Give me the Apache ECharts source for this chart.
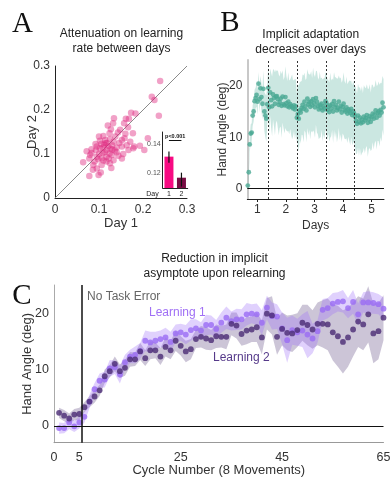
<!DOCTYPE html>
<html><head><meta charset="utf-8">
<script src="https://cdn.jsdelivr.net/npm/echarts@6.0.0/dist/echarts.min.js"></script>
<style>html,body{margin:0;padding:0;background:#fff}#c{width:392px;height:482px}</style>
</head><body><div id="c"></div>
<script>
// ---------- Panel A data ----------
const aTicks = [0, 0.1, 0.2, 0.3];
const aDay1 = [0.239,0.220,0.226,0.236,0.173,0.183,0.161,0.168,0.134,0.132,
  0.157,0.166,0.148,0.177,0.211,0.193,0.152,0.158,0.171,0.124,
  0.110,0.127,0.114,0.102,0.133,0.140,0.152,0.163,0.167,0.180,
  0.083,0.095,0.093,0.102,0.108,0.117,0.117,0.129,0.133,0.144,
  0.152,0.106,0.095,0.083,0.064,0.087,0.095,0.106,0.117,0.086,
  0.078,0.099,0.125,0.203,0.178,0.080,0.112,0.121,0.126,0.118,
  0.109,0.130,0.136,0.124,0.113,0.100,0.098,0.110,0.122,0.140,
  0.146,0.137,0.125,0.092,0.105,0.090,0.078,0.072,0.100,0.120,
  0.143,0.160,0.155,0.128,0.104,0.115,0.130];
const aDay2 = [0.266,0.230,0.223,0.187,0.194,0.192,0.180,0.180,0.181,0.170,
  0.170,0.161,0.155,0.147,0.136,0.119,0.132,0.136,0.128,0.147,
  0.141,0.156,0.132,0.130,0.128,0.115,0.117,0.120,0.109,0.117,
  0.111,0.117,0.109,0.113,0.102,0.109,0.094,0.098,0.086,0.096,
  0.090,0.090,0.094,0.102,0.081,0.075,0.067,0.075,0.083,0.064,
  0.050,0.052,0.079,0.109,0.113,0.098,0.121,0.118,0.112,0.125,
  0.115,0.120,0.108,0.101,0.104,0.100,0.088,0.085,0.090,0.104,
  0.125,0.140,0.134,0.123,0.123,0.083,0.090,0.106,0.140,0.165,
  0.149,0.146,0.100,0.068,0.058,0.125,0.110];
const identityLine = [[0, 0], [0.3, 0.3]];
// inset
const insetDays = ['1', '2'];
const insetMeans = [0.1312, 0.1165];
const insetLow = [0.1270, 0.1103];
const insetHigh = [0.1347, 0.1200];
const insetTicks = [0.12, 0.14];
const insetSigLevel = 0.1428;

// ---------- Panel B data ----------
const bTicks = [1, 2, 3, 4, 5];
const bYTicks = [0, 10, 20];
const bDayBounds = [0.65, 1.4, 2.4, 3.4, 4.4, 5.43];
const bDay1 = [0.6,3.2,8.6,10.7,10.9,14.2,15.0,17.0,17.6,18.2,16.9,20.4,17.4,19.5,17.8,16.5,19.4,15.0,14.2,13.6,16.4,19.6];
const bDay2 = [15.8,18.7,17.2,16.0,18.3,17.6,16.5,17.9,18.0,17.4,16.3,16.8,17.5,16.1,17.9,16.4,16.2,17.8,16.6,16.0,16.9,15.8,16.4,16.1,15.9,15.6,16.2,15.4,16.0,13.8];
const bDay3 = [14.5,13.6,15.2,14.8,15.7,16.3,15.5,16.9,16.0,15.2,17.5,16.4,16.8,15.9,17.0,16.2,17.4,16.6,15.8,17.6,16.9,16.1,15.4,16.3,15.7,16.5,15.2,16.0,15.6,17.0];
const bDay4 = [16.6,15.3,15.9,14.9,16.2,15.6,16.4,15.0,17.0,15.8,16.3,15.2,15.7,16.9,15.4,16.1,14.8,15.9,16.5,15.3,15.0,15.8,14.6,15.4,15.1,14.7,15.5,14.3,15.0,14.6];
const bDay5 = [14.0,13.2,12.6,14.2,13.0,13.8,12.7,13.4,12.9,14.0,13.3,13.7,14.3,12.8,13.5,14.1,13.0,13.9,14.6,13.6,14.4,15.2,13.8,14.7,15.0,14.2,15.3,14.8,16.7,15.8];
const bErr1 = [0.5,0.8,1.5,1.8,1.8,2.0,2.0,2.2,2.0,2.3,2.5,2.2,2.6,2.4,2.8,3.0,3.5,3.8,4.2,4.5,4.0,4.3];
const bErr2 = [5.0,4.6,5.3,5.8,4.9,5.5,6.1,5.2,4.8,5.6,5.9,5.0,5.4,6.2,5.1,4.7,5.5,6.0,5.3,4.9,5.7,5.2,4.8,5.6,6.3,5.4,5.0,5.8,5.3,4.6];
const bErr3 = [5.8,6.4,5.5,6.0,5.2,5.9,6.5,5.6,5.1,6.2,5.7,6.0,5.4,6.3,5.8,5.3,6.1,5.6,5.9,5.2,6.0,5.5,5.8,6.4,5.7,5.1,6.0,5.4,5.9,5.6];
const bErr4 = [5.5,6.0,5.2,5.8,6.3,5.4,5.0,6.1,5.6,5.9,5.3,6.2,5.7,5.1,6.0,5.5,5.8,5.2,6.1,5.6,5.4,6.0,5.7,5.3,5.9,6.2,5.5,5.8,6.0,5.6];
const bErr5 = [6.0,6.4,5.8,6.2,6.6,5.9,6.3,6.5,5.7,6.1,6.4,5.8,6.0,6.6,5.9,6.2,5.7,6.3,5.6,6.0,5.5,5.9,6.2,5.4,5.8,6.0,5.3,5.7,5.2,5.5];

// ---------- Panel C data ----------
const cXTicks = [0, 5, 25, 45, 65];
const cYTicks = [0, 10, 20];
const cNoErrorEnd = 5.5;
const cL1 = [-0.4,-0.4,0.6,-0.1,0.6,1.6,4.3,6.5,8.0,8.2,
  10.2,10.4,9.1,11.3,12.3,12.6,13.3,15.1,14.8,15.1,
  15.4,15.7,14.9,16.4,16.6,16.2,17.0,17.3,16.9,17.9,
  17.9,17.2,18.3,19.2,18.6,18.9,18.9,19.8,19.9,19.8,
  18.3,21.0,19.5,19.4,17.3,15.2,17.0,16.6,16.9,16.2,
  15.5,16.8,20.6,20.9,21.7,22.0,22.1,20.9,22.0,19.8,
  21.9,21.9,21.8,21.6,20.8];
const cL2 = [2.3,1.8,1.3,2.0,2.1,3.3,4.3,5.2,6.3,8.8,
  9.7,11.0,9.7,10.3,11.8,11.8,13.2,12.0,13.4,13.4,
  12.3,14.0,13.4,15.1,14.2,13.2,13.6,15.4,15.8,15.5,
  15.2,15.9,15.8,15.8,18.1,17.8,16.3,16.9,17.1,17.5,
  15.7,19.9,19.6,15.8,17.2,16.5,16.4,17.0,18.3,17.9,
  17.1,18.1,18.1,18.0,16.6,15.9,14.9,15.7,17.1,18.5,
  18.0,19.8,16.4,16.8,19.2];
const cErr1 = [1.0,0.9,1.2,1.0,1.1,1.0,1.2,1.1,1.3,1.4,1.5,1.2,1.6,1.3,1.2,1.5,1.4,1.8,
  1.9,1.6,1.5,1.7,1.8,1.6,1.5,1.7,1.9,1.6,1.5,1.8,1.7,1.6,1.8,2.0,1.7,1.9,
  1.8,2.0,1.7,1.9,2.2,2.1,2.4,2.2,2.8,4.0,2.6,2.4,2.9,4.2,2.6,2.0,1.9,1.8,
  1.9,1.7,2.0,1.8,2.1,1.9,1.8,2.0,1.9,1.8,2.0];
const cErr2 = [0.9,1.0,0.9,1.0,1.1,0.9,1.0,1.1,1.0,1.2,1.1,1.3,1.2,1.4,1.3,1.2,1.5,1.4,
  1.6,1.4,1.5,1.7,1.6,1.8,1.7,1.9,1.8,1.6,1.9,2.0,1.8,2.1,1.9,2.2,2.0,2.3,
  2.1,2.4,2.2,2.6,3.0,2.8,3.4,3.2,2.9,3.1,3.3,3.0,3.2,3.6,3.4,3.8,4.2,4.6,
  5.0,5.4,5.6,5.2,4.8,4.5,4.6,5.0,5.3,5.0,4.0];

// ---------- build ----------
const FONT = "'Liberation Sans', Arial, sans-serif";
const SERIF = "'Liberation Serif', 'Times New Roman', serif";

const aPts = aDay1.map((x, i) => [x, aDay2[i]]);

const bDays = [bDay1, bDay2, bDay3, bDay4, bDay5];
const bErrs = [bErr1, bErr2, bErr3, bErr4, bErr5];
const bPts = [];
bDays.forEach((vals, d) => {
  const s = bDayBounds[d], e = bDayBounds[d + 1], step = (e - s) / vals.length;
  vals.forEach((v, i) => bPts.push([s + (i + 0.5) * step, v, bErrs[d][i]]));
});

const cCycle = cL1.map((_, i) => i + 1);
const cPts1 = cCycle.map((x, i) => [x, cL1[i], cErr1[i]]);
const cPts2 = cCycle.map((x, i) => [x, cL2[i], cErr2[i]]);

// shaded error band drawn through the axes' own scales
function bandSeries(pts, idx, color) {
  return {
    type: 'custom', xAxisIndex: idx, yAxisIndex: idx, silent: true, clip: true, z: 1,
    data: pts.map(p => [p[0], p[1] - p[2], p[1] + p[2]]),
    encode: { x: 0, y: [1, 2] },
    renderItem: function (params, api) {
      if (params.dataIndex !== 0) return null;
      const up = pts.map(p => api.coord([p[0], p[1] + p[2]]));
      const lo = pts.map(p => api.coord([p[0], p[1] - p[2]])).reverse();
      return { type: 'polygon', shape: { points: up.concat(lo) }, style: { fill: color } };
    }
  };
}

const axisLabelStyle = { fontFamily: FONT, fontSize: 12, color: '#333' };
const nameStyle = { fontFamily: FONT, fontSize: 12, color: '#333' };

const option = {
  animation: false,
  backgroundColor: '#fff',
  grid: [
    { left: 55, top: 66, width: 132, height: 132, containLabel: false, outerBoundsMode: 'none' },
    { left: 162.7, top: 132, width: 25, height: 56, containLabel: false, outerBoundsMode: 'none' },
    { left: 247.3, top: 60, width: 136.7, height: 139, containLabel: false, outerBoundsMode: 'none' },
    { left: 54, top: 285, width: 329.5, height: 157.7, containLabel: false, outerBoundsMode: 'none' }
  ],
  xAxis: [
    { type: 'value', gridIndex: 0, min: 0, max: 0.3, interval: 0.1,
      axisLine: { onZero: false, lineStyle: { color: '#222', width: 1 } },
      axisTick: { show: false }, splitLine: { show: false },
      axisLabel: Object.assign({ margin: 6, customValues: aTicks }, axisLabelStyle),
      name: 'Day 1', nameLocation: 'middle', nameGap: 18.5, nameMoveOverlap: false,
      nameTextStyle: Object.assign({}, nameStyle, { fontSize: 13 }) },
    { type: 'category', gridIndex: 1, data: insetDays,
      axisLine: { lineStyle: { color: '#222', width: 1 } },
      axisTick: { show: false }, splitLine: { show: false },
      axisLabel: { fontFamily: FONT, fontSize: 7, color: '#222', margin: 2.5 },
      name: 'Day', nameLocation: 'start', nameGap: 4, nameMoveOverlap: false,
      nameTextStyle: { fontFamily: FONT, fontSize: 7, color: '#222', verticalAlign: 'top', padding: [3, 0, 0, 0] } },
    { type: 'value', gridIndex: 2, min: 0.65, max: 5.43,
      axisLine: { onZero: false, lineStyle: { color: '#222', width: 1 } },
      axisTick: { show: true, length: 3, customValues: bTicks, lineStyle: { color: '#222' } },
      splitLine: { show: false },
      axisLabel: Object.assign({ margin: 5, customValues: bTicks }, axisLabelStyle),
      name: 'Days', nameLocation: 'middle', nameGap: 20.5, nameMoveOverlap: false, nameTextStyle: nameStyle },
    { type: 'value', gridIndex: 3, min: 0, max: 65,
      axisLine: { onZero: false, lineStyle: { color: '#999', width: 1 } },
      axisTick: { show: false }, splitLine: { show: false },
      axisLabel: Object.assign({ margin: 8, customValues: cXTicks }, axisLabelStyle, { fontSize: 12.5 }),
      name: 'Cycle Number (8 Movements)', nameLocation: 'middle', nameGap: 21.5, nameMoveOverlap: false,
      nameTextStyle: Object.assign({}, nameStyle, { fontSize: 13 }) }
  ],
  yAxis: [
    { type: 'value', gridIndex: 0, min: 0, max: 0.3, interval: 0.1,
      axisLine: { show: true, onZero: false, lineStyle: { color: '#222', width: 1 } },
      axisTick: { show: false }, splitLine: { show: false },
      axisLabel: Object.assign({ margin: 5, customValues: aTicks }, axisLabelStyle),
      name: 'Day 2', nameLocation: 'middle', nameGap: 16, nameMoveOverlap: false,
      nameTextStyle: Object.assign({}, nameStyle, { fontSize: 13 }) },
    { type: 'value', gridIndex: 1, min: 0.1093, max: 0.1484,
      axisLine: { show: true, onZero: false, lineStyle: { color: '#222', width: 1 } },
      axisTick: { show: false }, splitLine: { show: false },
      axisLabel: { fontFamily: FONT, fontSize: 7, color: '#555', margin: 2, customValues: insetTicks } },
    { type: 'value', gridIndex: 2, min: -2, max: 25,
      axisLine: { show: true, onZero: false, lineStyle: { color: '#c8c8c8', width: 2 } },
      axisTick: { show: false }, splitLine: { show: false },
      axisLabel: Object.assign({ margin: 5, customValues: bYTicks }, axisLabelStyle),
      name: 'Hand Angle (deg)', nameLocation: 'middle', nameGap: 18.3, nameMoveOverlap: false, nameTextStyle: nameStyle },
    { type: 'value', gridIndex: 3, min: -3, max: 25,
      axisLine: { show: true, onZero: false, lineStyle: { color: '#aaa', width: 1 } },
      axisTick: { show: false }, splitLine: { show: false },
      axisLabel: Object.assign({ margin: 5, customValues: cYTicks }, axisLabelStyle, { fontSize: 12.5 }),
      name: 'Hand Angle (deg)', nameLocation: 'middle', nameGap: 20.5, nameMoveOverlap: false,
      nameTextStyle: Object.assign({}, nameStyle, { fontSize: 13 }) }
  ],
  series: [
    // Panel A
    { type: 'line', xAxisIndex: 0, yAxisIndex: 0, data: identityLine, symbol: 'none', silent: true,
      lineStyle: { color: '#8a8a8a', width: 1 }, z: 2 },
    { type: 'scatter', xAxisIndex: 0, yAxisIndex: 0, data: aPts, symbolSize: 6.5,
      itemStyle: { color: 'rgba(222,40,128,0.55)' }, z: 3 },
    { type: 'bar', xAxisIndex: 1, yAxisIndex: 1, barWidth: 9, clip: true,
      data: insetMeans.map((v, i) => ({ value: v, itemStyle: { color: ['#f70a82', '#780c43'][i] } })),
      markLine: { silent: true, symbol: ['none', 'none'],
        lineStyle: { color: '#111', width: 1, type: 'solid' },
        label: { show: true, formatter: 'p<0.001', position: 'insideMiddleTop', distance: 1,
          fontFamily: FONT, fontSize: 5.5, fontWeight: 'bold', color: '#111' },
        data: [[{ coord: [0, insetSigLevel] }, { coord: [1, insetSigLevel] }]] } },
    { type: 'custom', xAxisIndex: 1, yAxisIndex: 1, silent: true,
      data: insetDays.map((d, i) => [i, insetLow[i], insetHigh[i]]),
      encode: { x: 0, y: [1, 2] },
      renderItem: function (params, api) {
        const x = api.value(0);
        const p1 = api.coord([x, api.value(1)]);
        const p2 = api.coord([x, api.value(2)]);
        return { type: 'line', shape: { x1: p1[0], y1: p1[1], x2: p2[0], y2: p2[1] },
          style: { stroke: '#111', lineWidth: 1.2 } };
      }, z: 4 },
    // Panel B
    bandSeries(bPts, 2, 'rgba(82,176,156,0.30)'),
    { type: 'scatter', xAxisIndex: 2, yAxisIndex: 2, data: bPts.map(p => [p[0], p[1]]),
      symbolSize: 4.8, itemStyle: { color: '#4aa994' }, z: 3,
      markLine: { silent: true, symbol: ['none', 'none'], label: { show: false },
        data: [
          { yAxis: 0, lineStyle: { color: '#111', width: 1.2, type: 'solid' } },
          ...bDayBounds.slice(1, 5).map(v => ({ xAxis: v, lineStyle: { color: '#333', width: 1, type: [2, 2] } }))
        ] } },
    // Panel C
    bandSeries(cPts2, 3, 'rgba(72,45,112,0.28)'),
    bandSeries(cPts1, 3, 'rgba(160,112,250,0.32)'),
    { type: 'scatter', xAxisIndex: 3, yAxisIndex: 3, data: cPts1.map(p => [p[0], p[1]]),
      symbolSize: 5.8, itemStyle: { color: '#9a6cf4' }, z: 3,
      markLine: { silent: true, symbol: ['none', 'none'], label: { show: false },
        data: [
          { yAxis: 0, lineStyle: { color: '#111', width: 1.2, type: 'solid' } },
          { xAxis: cNoErrorEnd, lineStyle: { color: '#111', width: 1.5, type: 'solid' } }
        ] } },
    { type: 'scatter', xAxisIndex: 3, yAxisIndex: 3, data: cPts2.map(p => [p[0], p[1]]),
      symbolSize: 5.8, itemStyle: { color: '#4a2b74' }, z: 3 }
  ],
  graphic: [
    { type: 'text', x: 22.5, y: 24, style: { text: 'A', font: '29px ' + SERIF, fill: '#111', textAlign: 'center', textVerticalAlign: 'middle', align: 'center', verticalAlign: 'middle' } },
    { type: 'text', x: 230, y: 23, style: { text: 'B', font: '29px ' + SERIF, fill: '#111', textAlign: 'center', textVerticalAlign: 'middle', align: 'center', verticalAlign: 'middle' } },
    { type: 'text', x: 22, y: 296, style: { text: 'C', font: '29px ' + SERIF, fill: '#111', textAlign: 'center', textVerticalAlign: 'middle', align: 'center', verticalAlign: 'middle' } },
    { type: 'text', x: 121.5, y: 41.5, style: { text: 'Attenuation on learning\nrate between days', font: '12px ' + FONT, lineHeight: 15, fill: '#222', textAlign: 'center', textVerticalAlign: 'middle', align: 'center', verticalAlign: 'middle' } },
    { type: 'text', x: 310.7, y: 42.5, style: { text: 'Implicit adaptation\ndecreases over days', font: '12px ' + FONT, lineHeight: 15, fill: '#222', textAlign: 'center', textVerticalAlign: 'middle', align: 'center', verticalAlign: 'middle' } },
    { type: 'text', x: 214.5, y: 266.5, style: { text: 'Reduction in implicit\nasymptote upon relearning', font: '12px ' + FONT, lineHeight: 15, fill: '#222', textAlign: 'center', textVerticalAlign: 'middle', align: 'center', verticalAlign: 'middle' } },
    { type: 'text', x: 87, y: 297, style: { text: 'No Task Error', font: '12px ' + FONT, fill: '#666', textAlign: 'left', textVerticalAlign: 'middle', align: 'left', verticalAlign: 'middle' } },
    { type: 'text', x: 149, y: 313, style: { text: 'Learning 1', font: '12px ' + FONT, fill: '#a070f5', textAlign: 'left', textVerticalAlign: 'middle', align: 'left', verticalAlign: 'middle' } },
    { type: 'text', x: 213, y: 358, style: { text: 'Learning 2', font: '12px ' + FONT, fill: '#563a8a', textAlign: 'left', textVerticalAlign: 'middle', align: 'left', verticalAlign: 'middle' } }
  ]
};

const chart = echarts.init(document.getElementById('c'), null, { renderer: 'canvas' });
chart.setOption(option);
</script>
</body></html>
